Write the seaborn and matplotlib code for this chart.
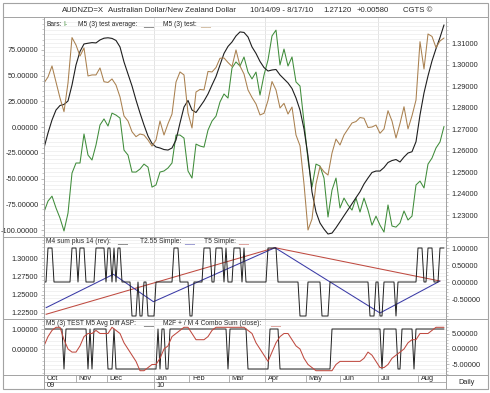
"""
AUDNZD=X - three stacked indicator panels (price + oscillators)
"""

import matplotlib
matplotlib.use("Agg")
import matplotlib.pyplot as plt
from matplotlib.lines import Line2D
from matplotlib.patches import Rectangle
from matplotlib.ticker import MultipleLocator, FormatStrFormatter, FixedLocator
import numpy as np
import seaborn as sns

sns.set_theme(style="white")
plt.rcParams['font.family'] = ['Liberation Sans', 'DejaVu Sans']
plt.rcParams['axes.unicode_minus'] = False

# ---------- data ----------
# bar index: one step per trading session (~2 px), panel-1 series read every 2 bars
bars_all = np.arange(0, 201)
bars_half = np.arange(0, 201, 2)

# Bars (price, right axis)
price = [1.2314, 1.2365, 1.2388, 1.2333, 1.2286, 1.2226, 1.2309, 1.2495, 1.2542, 1.2542,
         1.2677, 1.2579, 1.2556, 1.2626, 1.2719, 1.2747, 1.2714, 1.2774, 1.2765, 1.2751,
         1.2602, 1.2579, 1.2500, 1.2500, 1.2514, 1.2537, 1.2523, 1.2430, 1.2440, 1.2500,
         1.2505, 1.2519, 1.2542, 1.2672, 1.2672, 1.2658, 1.2505, 1.2472, 1.2630, 1.2621,
         1.2616, 1.2695, 1.2737, 1.2760, 1.2826, 1.2863, 1.2844, 1.2984, 1.3012, 1.2993,
         1.3035, 1.2965, 1.2933, 1.2965, 1.2858, 1.2951, 1.3021, 1.3133, 1.3160, 1.2998,
         1.3072, 1.2993, 1.3035, 1.2919, 1.2900, 1.2733, 1.2556, 1.2430, 1.2537, 1.2528,
         1.2472, 1.2291, 1.2416, 1.2472, 1.2333, 1.2379, 1.2347, 1.2323, 1.2379, 1.2314,
         1.2379, 1.2323, 1.2253, 1.2295, 1.2253, 1.2221, 1.2347, 1.2249, 1.2244, 1.2263,
         1.2319, 1.2277, 1.2295, 1.2440, 1.2458, 1.2426, 1.2537, 1.2565, 1.2612, 1.2640,
         1.2712]

# M5 (3) test average (left axis)
test_avg = [-20.3, -5.7, 6.9, 16.6, 21.0, 22.0, 25.4, 40.9, 60.4, 73.5,
            80.8, 81.5, 82.1, 81.8, 84.7, 86.4, 86.8, 86.2, 84.2, 77.9,
            63.3, 51.6, 40.0, 26.3, 13.7, 2.0, -8.7, -15.9, -19.3, -20.3,
            -21.8, -22.3, -20.3, -12.5, 4.0, 19.5, 25.9, 16.6, 14.2, 19.8,
            25.4, 32.2, 40.9, 49.2, 60.4, 71.6, 78.4, 82.7, 88.6, 92.5,
            92.0, 87.6, 77.9, 71.6, 63.8, 57.9, 54.5, 55.5, 56.0, 50.7,
            46.8, 42.9, 37.5, 28.3, 16.6, -1.8, -28.1, -63.1, -82.5, -93.2,
            -99.1, -103.9, -103.0, -97.8, -92.0, -86.1, -80.3, -74.5, -68.6, -62.8,
            -55.3, -49.5, -44.1, -42.7, -42.7, -39.3, -34.4, -32.5, -31.5, -33.9,
            -29.1, -25.2, -23.9, -14.2, 11.8, 33.2, 49.7, 64.3, 76.2, 87.1,
            99.3]

# M5 (3) test (left axis)
test = [42.9, 48.7, 59.4, 43.8, 28.3, 15.0, 42.9, 87.0, 79.8, 69.1,
        76.9, 49.7, 50.7, 50.7, 57.5, 44.1, 43.4, 46.8, 40.9, 29.3,
        10.8, 5.9, -4.5, -9.3, -6.7, -7.7, -12.5, -18.4, -12.5, 5.9,
        -7.7, 3.3, 12.7, 43.8, 53.6, 50.7, 13.7, -0.9, 34.1, 36.6,
        36.1, 54.1, 53.6, 57.9, 66.9, 67.2, 62.8, 58.9, 75.0, 59.4,
        51.6, 36.1, 28.8, 22.5, 11.8, 13.4, 25.9, 44.3, 36.1, 18.6,
        23.1, 12.7, 19.5, -7.7, -18.1, -55.3, -100.0, -89.3, -55.3, -38.3,
        -43.4, -46.6, -25.2, -11.6, -17.4, -7.7, -1.8, 4.0, 5.4, 9.3,
        8.6, -0.4, 0.1, 2.0, -6.0, -1.8, 15.9, 5.9, -10.6, 3.5,
        19.8, -1.7, 11.0, 26.3, 83.0, 56.5, 90.5, 88.1, 77.3, 83.7,
        86.6]

# M4 sum plus 14 (rev) (panel 2, right axis)
m4_sum = [0, 0, 1, 1, 1, 0, 0, 0, 0, 0, 0, 0, 0, 0, 1, 1, 1, 0, 1, 1,
          1, 0, 0, 0, 0, 0, 1, 1, 1, 1, 1, 0, 1, 1, 0, 1, 0, 1, 1, 0,
          0, 0, 0, 0, -1, -1, -1, 0, -1, -1, 0, 0, -1, -1, -1, -1, 0, 0, 0, 0,
          0, 0, 0, 0, 0, 1, 1, 1, 0, 0, 0, 0, 0, -1, -1, 0, 0, 0, 0, 0,
          1, 1, 1, 1, 0, 0, 1, 1, 1, 1, 0, 1, 0, 0, 0, 1, 1, 1, 1, 0,
          1, 0, 0, 0, 0, 0, 0, 0, 0, 0, 0, 0, 1, 1, 1, 1, 1, 0, 0, 0,
          0, 0, 0, 0, 0, 0, 0, 0, -1, -1, -1, -1, 0, 0, 0, 0, 0, 0, 0, -1,
          -1, -1, -1, 0, 0, 0, 0, 0, 0, 0, 0, 0, 0, 0, 0, 0, 0, 0, 0, 0,
          0, 0, 0, -1, -1, -1, 0, 0, -1, -1, 0, 0, 0, 0, 0, 0, -1, 0, 0, 0,
          0, 0, 0, 0, 0, 0, 0, 1, 1, 1, 0, 0, 1, 1, 1, 0, 0, 0, 1, 1,
          1]

# T2.55 Simple / T5 Simple pivot lines (panel 2, left axis)
t255_bars = [1, 34.7, 54.7, 115.5, 168, 198]
t255_vals = [1.2322, 1.2778, 1.2404, 1.3141, 1.2250, 1.2686]
t5_bars = [1, 115.5, 198]
t5_vals = [1.2232, 1.3141, 1.2686]

# M5 (3) TEST M5 Avg Diff ASP (panel 3, left axis)
m5_diff = [1, 1, 1, 1, 1, 1, 1, 1, 1, 1, -1, 1, 1, 1, 1, 1, 1, 1, 1, 1,
           1, 1, -1, 1, -1, 1, 1, 1, 1, 1, 1, 1, -1, -1, -1, 1, -1, -1, -1, -1,
           -1, -1, -1, -1, -1, -1, -1, -1, -1, -1, -1, -1, -1, -1, -1, -1, -1, 1, -1, 1,
           1, -1, -1, 1, 1, 1, 1, 1, 1, 1, 1, 1, 1, 1, 1, 1, 1, 1, 1, 1,
           1, 1, 1, 1, 1, 1, 1, 1, 1, 1, 1, 1, -1, 1, 1, 1, 1, 1, 1, 1,
           1, 1, -1, -1, -1, -1, -1, -1, -1, -1, -1, -1, -1, 1, 1, 1, 1, 1, -1, -1,
           -1, -1, -1, -1, -1, -1, -1, -1, -1, -1, -1, -1, -1, -1, -1, -1, -1, -1, -1, -1,
           -1, -1, -1, -1, 1, 1, 1, 1, 1, 1, 1, 1, 1, 1, 1, 1, 1, 1, 1, 1,
           1, 1, 1, 1, 1, 1, 1, 1, 1, -1, 1, 1, 1, 1, 1, 1, 1, -1, -1, 1,
           1, 1, 1, 1, 1, -1, 1, 1, 1, 1, 1, 1, 1, 1, 1, 1, 1, 1, 1, 1,
           1]

# M2F + / M 4 Combo Sum (close) (panel 3, right axis)
combo_sum = [1, 4, 6, 7, 7, 3, 0, -1, -1, 1,
             4, 5, 5, 6, 5, 5, 5, 7, 6, 5,
             2, 0, -2, -4, -7, -7, -6, -5, -5, -3,
             0, 1, 4, 5, 6, 7, 7, 5, 3, 3,
             3, 4, 6, 7, 7, 7, 7, 7, 7, 7,
             7, 6, 5, 2, 0, -2, -4, -1, 2, 4,
             5, 5, 3, 1, 0, -3, -5, -6, -7, -7,
             -7, -7, -7, -5, -4, -4, -4, -4, -4, -4,
             -3, -1, -2, -4, -6, -6, -5, -3, -2, -1,
             0, 2, 3, 3, 5, 5, 5, 6, 7, 7,
             7]

# date axis
month_names = ['Oct', 'Nov', 'Dec', 'Jan', 'Feb', 'Mar', 'Apr', 'May', 'Jun', 'Jul', 'Aug']
month_pos = [0, 16, 31.5, 54.8, 72.7, 92.5, 110.5, 130.8, 148, 167.2, 187.2]
year_names = ['09', '10']
year_pos = [0, 54.8]

# axis ticks
p1_left_ticks = [-100, -75, -50, -25, 0, 25, 50, 75]
p1_right_ticks = [1.23, 1.24, 1.25, 1.26, 1.27, 1.28, 1.29, 1.30, 1.31]
p2_left_ticks = [1.225, 1.25, 1.275, 1.30]
p2_right_ticks = [-0.5, 0.0, 0.5, 1.0]
p3_left_ticks = [0, 1]
p3_right_ticks = [-5, 0, 5]

# ---------- style ----------
GREEN = '#3f8c3a'
BROWN = '#a9804f'
BLACK = '#1e1e1e'
BLUE = '#3a3aa6'
RED = '#bf4a40'
FRAME = '#a3a3a3'
GRID = '#ececec'
VGRID = '#dedede'
TXT = '#2a2a2a'
FS = 5.3
LEG_FS = 4.8

W_PX, H_PX = 490, 393
fig = plt.figure(figsize=(4.9, 3.93), dpi=100)
fig.patch.set_facecolor('white')


def box(x0, y0, x1, y1):
    # pixel box with top-left origin -> figure rect
    return [x0 / W_PX, 1 - y1 / H_PX, (x1 - x0) / W_PX, (y1 - y0) / H_PX]


def ftext(x, y, s, color=TXT, size=LEG_FS):
    fig.text(x / W_PX, 1 - y / H_PX, s, va='center', ha='left', fontsize=size, color=color)


def style_axis(ax, xmax=201):
    ax.set_xlim(0, xmax)
    ax.set_xticks([])
    ax.set_xlabel('')
    ax.set_ylabel('')
    for sp in ax.spines.values():
        sp.set_color(FRAME)
        sp.set_linewidth(0.7)
    ax.tick_params(axis='y', which='major', length=2.5, width=0.5, color=FRAME,
                   labelsize=FS, labelcolor=TXT, pad=1.5)
    ax.tick_params(axis='y', which='minor', length=1.3, width=0.4, color=FRAME)
    ax.yaxis.set_major_formatter(FormatStrFormatter('%.5f'))


quarters = [p for n, p in zip(month_names, month_pos) if n in ('Jan', 'Apr', 'Jul')]

# ========== Panel 1: price + test oscillators ==========
ax1 = fig.add_axes(box(44, 17, 446, 237))
ax1b = ax1.twinx()
sns.lineplot(x=bars_half, y=price, ax=ax1, color=GREEN, linewidth=0.75)
sns.lineplot(x=bars_half, y=test_avg, ax=ax1b, color=BLACK, linewidth=0.8)
sns.lineplot(x=bars_half, y=test, ax=ax1b, color=BROWN, linewidth=0.75)
ax1.set_ylim(1.2198, 1.3221)
ax1b.set_ylim(-106.8, 107.0)
for a in (ax1, ax1b):
    style_axis(a)
ax1.yaxis.tick_right()
ax1b.yaxis.tick_left()
ax1.yaxis.set_major_locator(FixedLocator(p1_right_ticks))
ax1.yaxis.set_minor_locator(MultipleLocator(0.002))
ax1b.yaxis.set_major_locator(FixedLocator(p1_left_ticks))
ax1b.yaxis.set_minor_locator(MultipleLocator(5))
ax1.grid(True, which='both', axis='y', color=GRID, linewidth=0.5)
for q in quarters:
    ax1.axvline(q, color=VGRID, linewidth=0.6, zorder=0)

# ========== Panel 2: M4 sum + pivot lines ==========
ax2 = fig.add_axes(box(44, 237, 446, 319))
ax2b = ax2.twinx()
sns.lineplot(x=t5_bars, y=t5_vals, ax=ax2, color=RED, linewidth=0.75)
sns.lineplot(x=t255_bars, y=t255_vals, ax=ax2, color=BLUE, linewidth=0.75)
sns.lineplot(x=bars_all, y=m4_sum, ax=ax2b, color=BLACK, linewidth=0.7)
ax2.set_ylim(1.2168, 1.3287)
ax2b.set_ylim(-1.088, 1.3235)
for a in (ax2, ax2b):
    style_axis(a)
ax2.yaxis.set_major_locator(FixedLocator(p2_left_ticks))
ax2.yaxis.set_minor_locator(MultipleLocator(0.005))
ax2b.yaxis.set_major_locator(FixedLocator(p2_right_ticks))
ax2b.yaxis.set_minor_locator(MultipleLocator(0.1))
ax2.grid(True, which='both', axis='y', color=GRID, linewidth=0.5)
for q in quarters:
    ax2.axvline(q, color=VGRID, linewidth=0.6, zorder=0)

# ========== Panel 3: avg diff + combo sum ==========
ax3 = fig.add_axes(box(44, 319, 446, 375))
ax3b = ax3.twinx()
sns.lineplot(x=bars_all, y=m5_diff, ax=ax3, color=BLACK, linewidth=0.7)
sns.lineplot(x=bars_half, y=combo_sum, ax=ax3b, color=RED, linewidth=0.75)
ax3.set_ylim(-1.3, 1.5)
ax3b.set_ylim(-8.39, 9.68)
for a in (ax3, ax3b):
    style_axis(a)
ax3.yaxis.set_major_locator(FixedLocator(p3_left_ticks))
ax3.yaxis.set_minor_locator(MultipleLocator(0.2))
ax3b.yaxis.set_major_locator(FixedLocator(p3_right_ticks))
ax3b.yaxis.set_minor_locator(MultipleLocator(1))
ax3.grid(True, which='both', axis='y', color=GRID, linewidth=0.5)
for q in quarters:
    ax3.axvline(q, color=VGRID, linewidth=0.6, zorder=0)

# ========== Date strip ==========
axd = fig.add_axes(box(44, 375, 446, 389))
axd.set_xlim(0, 201)
axd.set_ylim(0, 2)
axd.set_xticks([])
axd.set_yticks([])
for sp in axd.spines.values():
    sp.set_color(FRAME)
    sp.set_linewidth(0.7)
axd.axhline(1, color=FRAME, linewidth=0.6)
for name, pos in zip(month_names, month_pos):
    if pos > 0:
        axd.vlines(pos, 1, 2, color=FRAME, linewidth=0.6)
    axd.text(pos + 1.3, 1.5, name, ha='left', va='center', fontsize=FS, color=TXT)
for name, pos in zip(year_names, year_pos):
    if pos > 0:
        axd.vlines(pos, 0, 1, color=FRAME, linewidth=0.6)
    axd.text(pos + 1.3, 0.5, name, ha='left', va='center', fontsize=FS, color=TXT)

axdaily = fig.add_axes(box(446, 375, 488, 389))
axdaily.set_xticks([])
axdaily.set_yticks([])
for sp in axdaily.spines.values():
    sp.set_color(FRAME)
    sp.set_linewidth(0.7)
axdaily.text(0.5, 0.45, 'Daily', ha='center', va='center', fontsize=FS, color=TXT,
             transform=axdaily.transAxes)

# ========== Frame, title bar, separators ==========
fig.add_artist(Rectangle((3 / W_PX, 1 - 389 / H_PX), 485 / W_PX, 386 / H_PX,
                         transform=fig.transFigure, fill=False, ec=FRAME, lw=0.8))
for y in (17, 237, 319, 375):
    fig.add_artist(Line2D([3 / W_PX, 488 / W_PX], [1 - y / H_PX] * 2,
                          transform=fig.transFigure, color=FRAME, lw=0.7))

ftext(62, 10.5, 'AUDNZD=X', size=5.6)
ftext(108, 10.5, 'Australian Dollar/New Zealand Dollar', size=5.6)
ftext(250, 10.5, '10/14/09 - 8/17/10', size=5.6)
ftext(323, 10.5, '1.27120', size=5.6)
ftext(357, 10.5, '+0.00580', size=5.6)
ftext(403, 10.5, 'CGTS \u00a9', size=5.6)

# panel legends
ftext(46, 24.5, 'Bars:')
ftext(63, 24.5, 'I-', color=GREEN)
ftext(78, 24.5, 'M5 (3) test average:')
ftext(143, 24.5, '___', color=BLACK)
ftext(163, 24.5, 'M5 (3) test:')
ftext(200, 24.5, '___', color=BROWN)

ftext(46, 241.5, 'M4 sum plus 14 (rev):')
ftext(117, 241.5, '___', color=BLACK)
ftext(140, 241.5, 'T2.55 Simple:')
ftext(184, 241.5, '___', color=BLUE)
ftext(204, 241.5, 'T5 Simple:')
ftext(238, 241.5, '___', color=RED)

ftext(46, 323.5, 'M5 (3) TEST M5 Avg Diff ASP:')
ftext(143, 323.5, '___', color=BLACK)
ftext(163, 323.5, 'M2F + / M 4 Combo Sum (close):')
ftext(270, 323.5, '___', color=RED)

fig.savefig('out.png', dpi=100, facecolor='white')
print("saved out.png")
